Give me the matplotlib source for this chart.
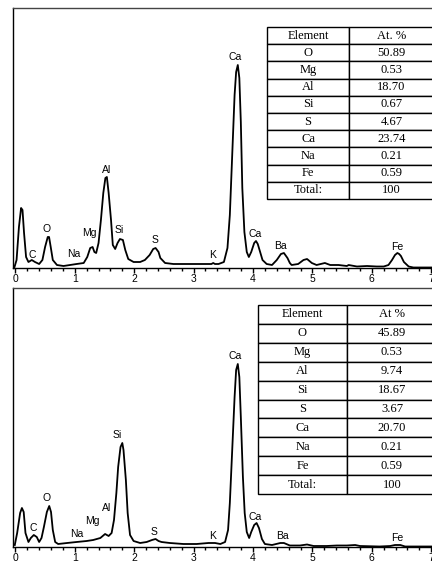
import matplotlib
matplotlib.use('Agg')
import matplotlib.pyplot as plt
from matplotlib.ticker import MultipleLocator

# spectrum readings (keV, counts in arbitrary units)
energy_top = [-0.02, 0.02, 0.06, 0.096, 0.12, 0.146, 0.18, 0.22, 0.276, 0.33, 0.40, 0.455, 0.50, 0.545, 0.567,
              0.595, 0.63, 0.70, 0.81, 0.92, 1.03, 1.15, 1.21, 1.26, 1.30, 1.33, 1.36, 1.40, 1.44, 1.48, 1.515,
              1.54, 1.57, 1.61, 1.64, 1.68, 1.72, 1.76, 1.81, 1.85, 1.90, 1.99, 2.10, 2.18, 2.26, 2.32, 2.36,
              2.41, 2.44, 2.52, 2.66, 2.83, 3.00, 3.16, 3.30, 3.33, 3.36, 3.42, 3.51, 3.57, 3.61, 3.65, 3.69,
              3.716, 3.744, 3.77, 3.795, 3.82, 3.855, 3.895, 3.93, 3.97, 4.02, 4.05, 4.08, 4.10, 4.16, 4.23,
              4.32, 4.40, 4.47, 4.52, 4.58, 4.62, 4.65, 4.76, 4.85, 4.91, 4.99, 5.07, 5.21, 5.30, 5.44, 5.58,
              5.61, 5.75, 5.92, 6.08, 6.20, 6.28, 6.34, 6.39, 6.43, 6.46, 6.49, 6.54, 6.62, 6.70, 7.05]
counts_top = [0, 8, 41, 60, 58, 35, 11, 6, 8, 6, 4, 8, 21, 31, 31,
              21, 8, 3, 2, 3, 4, 5, 11, 20, 21, 16, 15, 25, 48, 75, 90,
              91, 75, 48, 23, 19, 25, 29, 28, 18, 9, 6, 6, 8, 13, 19, 20,
              16, 10, 5, 4, 4, 4, 4, 4, 5, 4, 4, 6, 20, 53, 113, 173,
              196, 203, 190, 146, 80, 36, 16, 11, 16, 25, 27, 24, 20, 8, 4,
              3, 8, 14, 15, 10, 5, 3, 4, 8, 9, 5, 3, 5, 3, 3, 2,
              3, 1.5, 2, 1.5, 1.5, 3, 8, 13, 15, 14, 12, 6, 1.5, 0.5, 0.5]

energy_bot = [-0.01, 0.03, 0.08, 0.11, 0.14, 0.17, 0.22, 0.26, 0.31, 0.36, 0.40, 0.44, 0.48, 0.53, 0.57,
              0.60, 0.63, 0.67, 0.72, 0.87, 1.03, 1.20, 1.31, 1.43, 1.51, 1.57, 1.62, 1.66, 1.70, 1.73,
              1.77, 1.80, 1.82, 1.86, 1.89, 1.93, 1.99, 2.10, 2.21, 2.30, 2.36, 2.41, 2.46, 2.60, 2.83,
              3.05, 3.25, 3.36, 3.45, 3.53, 3.58, 3.61, 3.65, 3.69, 3.716, 3.744, 3.77, 3.795, 3.83, 3.86,
              3.895, 3.935, 3.97, 4.02, 4.06, 4.10, 4.15, 4.20, 4.32, 4.46, 4.52, 4.62, 4.79, 4.91, 5.02,
              5.24, 5.41, 5.58, 5.72, 5.80, 6.13, 6.31, 6.39, 6.48, 6.56, 7.05]
counts_bot = [2, 14, 34, 39, 35, 14, 5, 9, 12, 10, 5, 9, 20, 35, 41,
              35, 17, 5, 3, 4, 5, 6, 7, 9, 13, 11, 14, 27, 54, 80,
              100, 104, 97, 67, 34, 12, 6, 4, 5, 7, 8, 6, 5, 4, 3,
              3, 4, 4, 3, 5, 17, 44, 97, 150, 177, 183, 170, 130, 70, 34,
              15, 9, 15, 22, 24, 19, 8, 3, 2, 4, 4, 1.5, 1.5, 2.5, 1,
              1, 1.5, 1.5, 2, 1, 0.5, 1, 2, 2, 0.5, 0.5]

# peak labels
labels_top = ['C', 'O', 'Na', 'Mg', 'Al', 'Si', 'S', 'K', 'Ca', 'Ca', 'Ba', 'Fe']
label_e_top = [0.28, 0.53, 0.99, 1.25, 1.53, 1.74, 2.35, 3.32, 3.70, 4.04, 4.47, 6.42]
label_h_top = [13, 39, 14, 35, 98, 38, 28, 13, 211, 34, 22, 21]

labels_bot = ['C', 'O', 'Na', 'Mg', 'Al', 'Si', 'S', 'K', 'Ca', 'Ca', 'Ba', 'Fe']
label_e_bot = [0.30, 0.53, 1.04, 1.29, 1.54, 1.72, 2.33, 3.32, 3.70, 4.04, 4.49, 6.42]
label_h_bot = [19, 49, 13, 26, 39, 112, 15, 11, 191, 30, 11, 9]

# composition tables
elements = ['O', 'Mg', 'Al', 'Si', 'S', 'Ca', 'Na', 'Fe', 'Total:']
at_top = ['50.89', '0.53', '18.70', '0.67', '4.67', '23.74', '0.21', '0.59', '100']
at_bot = ['45.89', '0.53', '9.74', '18.67', '3.67', '20.70', '0.21', '0.59', '100']

W, H = 432, 563
fig = plt.figure(figsize=(W / 100, H / 100), dpi=100)


def px_axes(x0, y0, x1, y1):
    # pixel box (top-left origin) -> figure axes
    return fig.add_axes([x0 / W, (H - y1) / H, (x1 - x0) / W, (y1 - y0) / H])


def spectrum(ax, e, c, names, le, lh, ytop):
    ax.plot(e, c, color='black', lw=1.3)
    ax.set_xlim(-0.04, 7.05)
    ax.set_ylim(0, ytop)
    ax.spines['right'].set_visible(False)
    for s in ['left', 'top', 'bottom']:
        ax.spines[s].set_linewidth(1.0)
    ax.spines['top'].set_color('#444444')
    ax.set_yticks([])
    ax.xaxis.set_major_locator(MultipleLocator(1))
    ax.xaxis.set_minor_locator(MultipleLocator(0.2))
    ax.tick_params(axis='x', which='major', length=3.5, width=1.0, pad=1, labelsize=7.5)
    ax.tick_params(axis='x', which='minor', length=2.5, width=1.0)
    for lab in ax.get_xticklabels():
        lab.set_family('Liberation Sans')
    for n, x, y in zip(names, le, lh):
        ax.text(x, y, n, ha='center', va='center', fontsize=7.5, family='Liberation Sans')


def comp_table(x0, y0, x1, y1, col1, head2, vals):
    tax = px_axes(x0, y0, x1, y1)
    tax.axis('off')
    cells = [['Element', head2]] + [[a, b] for a, b in zip(elements, vals)]
    tb = tax.table(cellText=cells, cellLoc='center', bbox=[0, 0, 1, 1],
                   colWidths=[col1, 1 - col1])
    tb.auto_set_font_size(False)
    for cell in tb.get_celld().values():
        cell.set_linewidth(1.0)
        cell.set_edgecolor('black')
        cell.set_facecolor('white')
        cell.get_text().set_fontsize(9)
        cell.get_text().set_family('Liberation Serif')


ax1 = px_axes(13, 8, 434.2, 268)
spectrum(ax1, energy_top, counts_top, labels_top, label_e_top, label_h_top, 260)

ax2 = px_axes(13, 288, 434.2, 547)
spectrum(ax2, energy_bot, counts_bot, labels_bot, label_e_bot, label_h_bot, 259)

comp_table(267, 27, 434, 199, 82 / 167, 'At. %', at_top)
comp_table(258, 305, 437, 494, 89 / 179, 'At %', at_bot)

fig.savefig('out.png', dpi=100)
